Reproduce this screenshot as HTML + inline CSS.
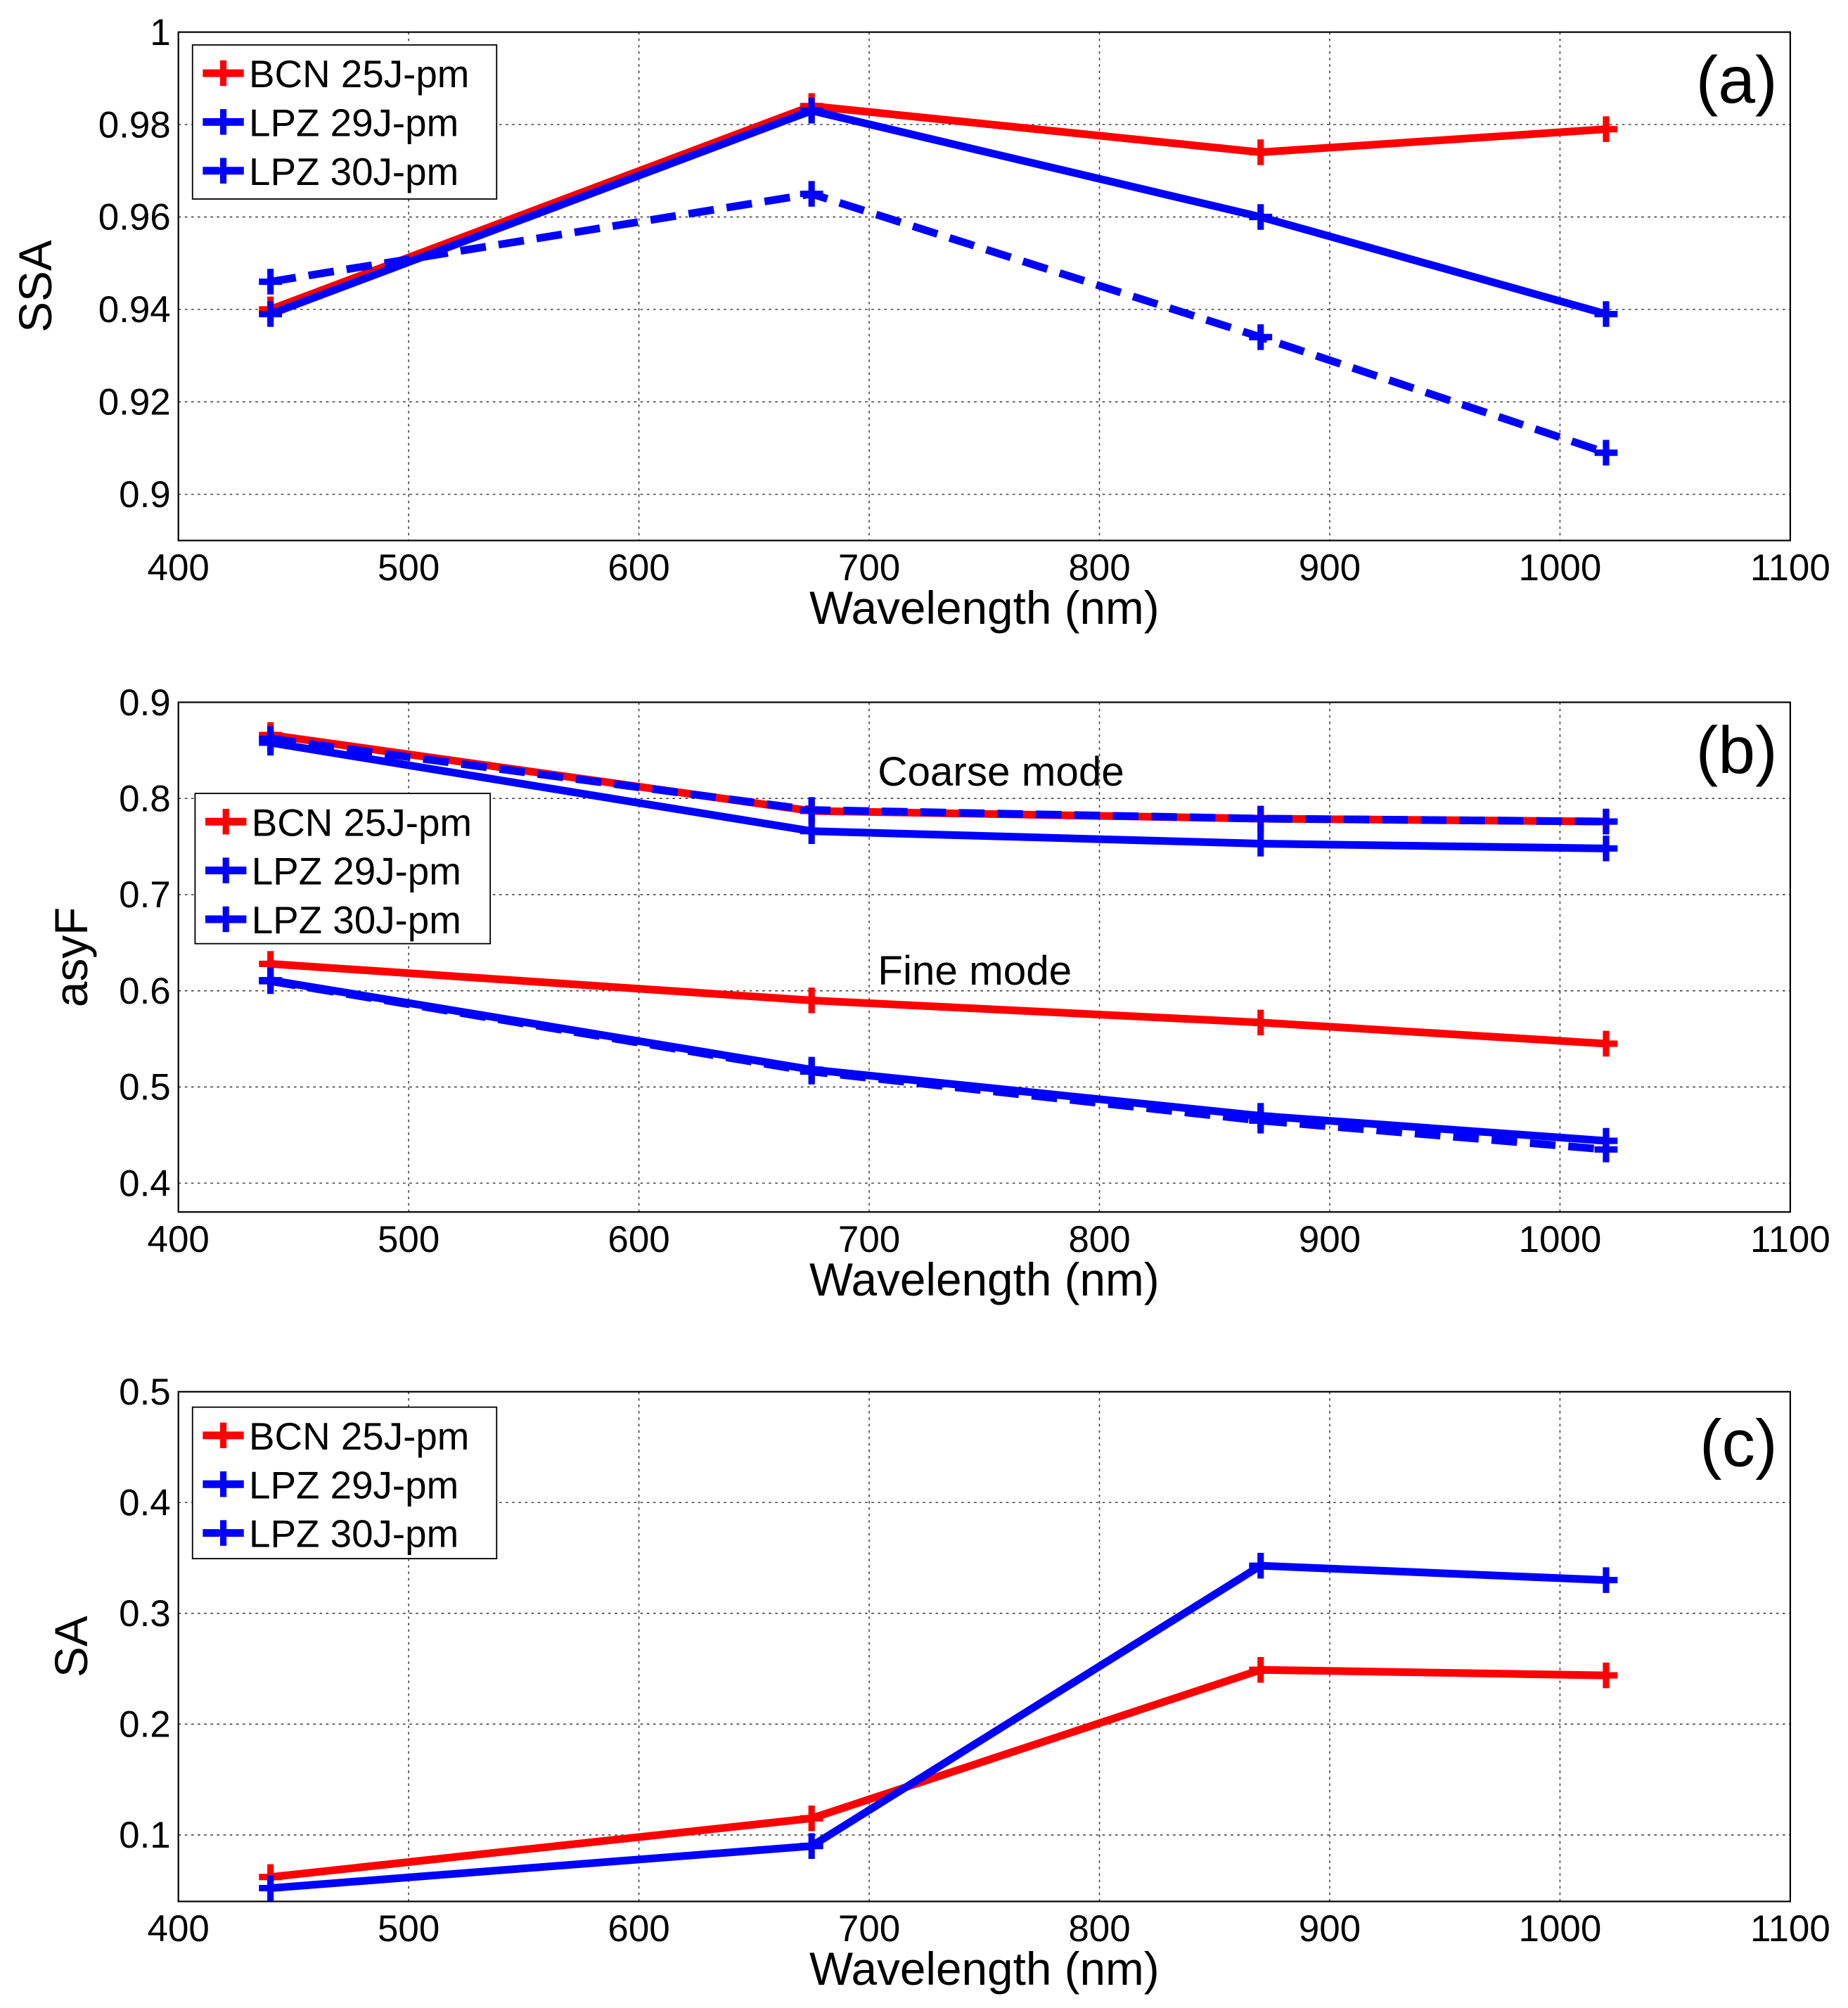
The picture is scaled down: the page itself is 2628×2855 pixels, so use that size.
<!DOCTYPE html>
<html><head><meta charset="utf-8">
<style>
html,body{margin:0;padding:0;background:#fff;}
svg{display:block;}
text{font-family:"Liberation Sans",Arial,sans-serif;fill:#000;}
</style></head>
<body>
<svg id="fig" width="2628" height="2855" viewBox="0 0 1440 1564" preserveAspectRatio="none" xmlns="http://www.w3.org/2000/svg"></svg>
<script>
const wavelengths = [440, 675, 870, 1020];
const xTicks = [400, 500, 600, 700, 800, 900, 1000, 1100];
const seriesNames = ["BCN 25J-pm", "LPZ 29J-pm", "LPZ 30J-pm"];
// panel a: SSA
const ssaBCN = [0.940, 0.984, 0.974, 0.979];
const ssaLPZ29 = [0.939, 0.983, 0.960, 0.939];
const ssaLPZ30 = [0.946, 0.965, 0.934, 0.909];
const ssaTicks = [0.9, 0.92, 0.94, 0.96, 0.98, 1];
const ssaTickLabels = ["0.9", "0.92", "0.94", "0.96", "0.98", "1"];
// panel b: asyF
const asyCoarseBCN = [0.866, 0.787, 0.779, 0.776];
const asyCoarseLPZ29 = [0.858, 0.766, 0.753, 0.748];
const asyCoarseLPZ30 = [0.862, 0.788, 0.779, 0.776];
const asyFineBCN = [0.628, 0.590, 0.567, 0.545];
const asyFineLPZ29 = [0.611, 0.518, 0.470, 0.444];
const asyFineLPZ30 = [0.610, 0.516, 0.465, 0.435];
const asyTicks = [0.4, 0.5, 0.6, 0.7, 0.8, 0.9];
const asyTickLabels = ["0.4", "0.5", "0.6", "0.7", "0.8", "0.9"];
// panel c: SA
const saBCN = [0.062, 0.115, 0.249, 0.244];
const saLPZ29 = [0.052, 0.090, 0.343, 0.330];
const saTicks = [0.1, 0.2, 0.3, 0.4, 0.5];
const saTickLabels = ["0.1", "0.2", "0.3", "0.4", "0.5"];

const NS = "http://www.w3.org/2000/svg";
const svg = document.getElementById("fig");
function mk(tag, attrs, parent){
  const e = document.createElementNS(NS, tag);
  for (const k in attrs) e.setAttribute(k, attrs[k]);
  (parent || svg).appendChild(e);
  return e;
}
const X0 = 139, X1 = 1395;
function xs(v){ return X0 + (v - 400) / 700 * (X1 - X0); }

function panel(id, top, bottom, ymin, ymax, ticks, tickLabels, ylabel, ylabelX, letter, letterY){
  const g = mk("g", {});
  
  
  const ys = v => bottom - (v - ymin) / (ymax - ymin) * (bottom - top);
  mk("rect", {x: X0, y: top, width: X1 - X0, height: bottom - top, fill: "#fff"}, g);
  xTicks.forEach((t, i) => {
    if (i > 0 && i < xTicks.length - 1) {
      const l = mk("line", {x1: xs(t), x2: xs(t), y1: top, y2: bottom, stroke: "#333", "stroke-width": 0.8, "stroke-dasharray": "2,3"}, g);
      
      
    }
    const tx = mk("text", {x: xs(t), y: bottom + 31, "font-size": 29, "text-anchor": "middle"}, g);
    tx.textContent = t;
    
    
  });
  ticks.forEach((t, i) => {
    const y = ys(t);
    if (y > top + 1 && y < bottom - 1) {
      const l = mk("line", {x1: X0, x2: X1, y1: y, y2: y, stroke: "#333", "stroke-width": 0.8, "stroke-dasharray": "2,3"}, g);
      
      
    }
    const tx = mk("text", {x: X0 - 6, y: y + 10, "font-size": 29, "text-anchor": "end"}, g);
    tx.textContent = tickLabels[i];
    
    
  });
  const fr = mk("rect", {x: X0, y: top, width: X1 - X0, height: bottom - top, fill: "none", stroke: "#000", "stroke-width": 1.2}, g);
  
  
  const xl = mk("text", {x: 767, y: bottom + 65, "font-size": 36, "text-anchor": "middle"}, g);
  xl.textContent = "Wavelength (nm)";
  
  
  const cy = (top + bottom) / 2;
  const yl = mk("text", {x: ylabelX, y: cy, "font-size": 36, "text-anchor": "middle", transform: `rotate(-90 ${ylabelX} ${cy})`}, g);
  yl.textContent = ylabel;
  
  
  const lt = mk("text", {x: 1385, y: letterY, "font-size": 52, "text-anchor": "end"}, g);
  lt.textContent = letter;
  
  
  return {g, ys};
}

function series(p, vals, color, dashed, name){
  const pts = vals.map((v, i) => xs(wavelengths[i]) + "," + p.ys(v)).join(" ");
  const pl = mk("polyline", {points: pts, fill: "none", stroke: color, "stroke-width": 6, "stroke-dasharray": dashed ? "20,10" : "none", "stroke-linejoin": "miter"}, p.g);
  
  
  vals.forEach((v, i) => {
    const x = xs(wavelengths[i]), y = p.ys(v);
    const m = mk("path", {d: `M${x-9},${y}H${x+9}M${x},${y-10}V${y+10}`, stroke: color, "stroke-width": 5, fill: "none"}, p.g);
    
    
  });
}

function legend(p, x, y, w, h){
  const lg = mk("g", {}, p.g);
  
  
  mk("rect", {x, y, width: w, height: h, fill: "#fff", stroke: "#000", "stroke-width": 1}, lg);
  const colors = ["#ff0000", "#0000ff", "#0000ff"];
  seriesNames.forEach((n, i) => {
    const ly = y + 22 + i * 38;
    const e = mk("g", {}, lg);
    
    
    mk("line", {x1: x + 8, x2: x + 40, y1: ly, y2: ly, stroke: colors[i], "stroke-width": 6, "stroke-dasharray": i === 2 ? "13,3,16" : "none"}, e);
    mk("path", {d: `M${x+15},${ly}H${x+33}M${x+24},${ly-10}V${ly+10}`, stroke: colors[i], "stroke-width": 5}, e);
    const t = mk("text", {x: x + 44, y: ly + 11, "font-size": 30}, e);
    t.textContent = n;
  });
}

const pa = panel("a", 25, 421, 0.89, 1.0, ssaTicks, ssaTickLabels, "SSA", 40, "(a)", 80);
series(pa, ssaBCN, "#ff0000", false, "bcn-25j");
series(pa, ssaLPZ29, "#0000ff", false, "lpz-29j");
series(pa, ssaLPZ30, "#0000ff", true, "lpz-30j");
legend(pa, 150, 35, 237, 120);

const pb = panel("b", 547, 944, 0.37, 0.9, asyTicks, asyTickLabels, "asyF", 68, "(b)", 602);
series(pb, asyCoarseBCN, "#ff0000", false, "bcn-25j-coarse");
series(pb, asyCoarseLPZ30, "#0000ff", true, "lpz-30j-coarse");
series(pb, asyCoarseLPZ29, "#0000ff", false, "lpz-29j-coarse");
series(pb, asyFineBCN, "#ff0000", false, "bcn-25j-fine");
series(pb, asyFineLPZ29, "#0000ff", false, "lpz-29j-fine");
series(pb, asyFineLPZ30, "#0000ff", true, "lpz-30j-fine");
legend(pb, 152, 618, 230, 117);
const cm = mk("text", {x: 684, y: 612, "font-size": 32}, pb.g);
cm.textContent = "Coarse mode";


const fm = mk("text", {x: 684, y: 767, "font-size": 32}, pb.g);
fm.textContent = "Fine mode";



const pc = panel("c", 1084, 1481, 0.04, 0.5, saTicks, saTickLabels, "SA", 68, "(c)", 1142);
series(pc, saBCN, "#ff0000", false, "bcn-25j");
series(pc, saLPZ29, "#0000ff", false, "lpz-29j");
legend(pc, 150, 1096, 237, 118);
</script>
</body></html>
